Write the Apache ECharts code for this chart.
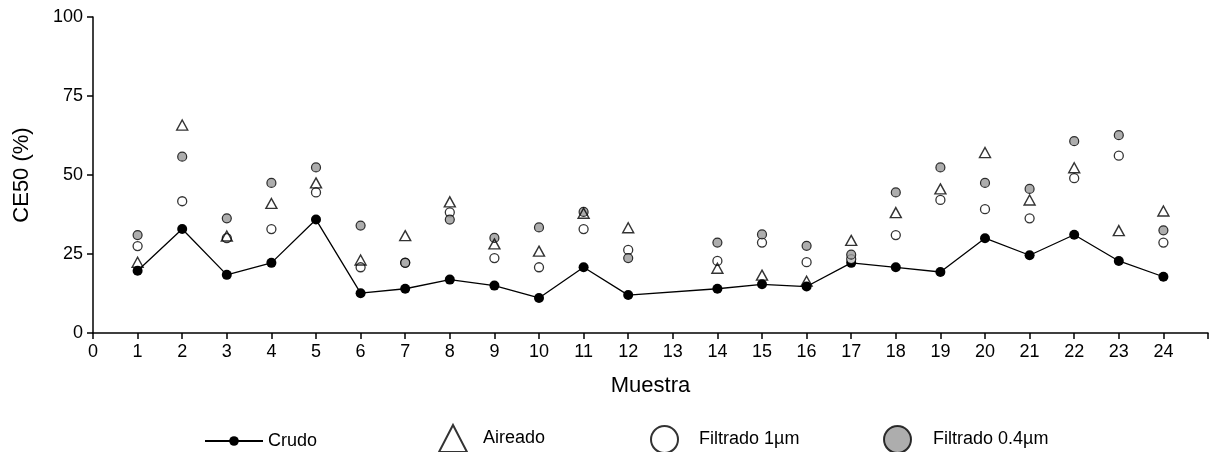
<!DOCTYPE html>
<html>
<head>
<meta charset="utf-8">
<script src="https://cdn.jsdelivr.net/npm/echarts@6/dist/echarts.min.js"></script>
<style>
  html, body { margin: 0; padding: 0; background: #fff; }
  #chart { width: 1215px; height: 452px; }
</style>
</head>
<body>
<div id="chart"></div>
<script>
// Sample numbers (sample 13 has no measurements)
const muestras = [1, 2, 3, 4, 5, 6, 7, 8, 9, 10, 11, 12, 14, 15, 16, 17, 18, 19, 20, 21, 22, 23, 24];

// CE50 (%) per treatment
const crudo = [19.7, 32.9, 18.4, 22.2, 35.9, 12.6, 14.0, 16.9, 15.0, 11.1, 20.8, 12.0, 14.0, 15.4, 14.7, 22.2, 20.8, 19.3, 30.0, 24.6, 31.1, 22.8, 17.8];
const aireado = [22.4, 65.8, 30.7, 41.0, 47.5, 23.1, 30.8, 41.5, 28.2, 25.9, 37.9, 33.3, 20.5, 18.3, 16.4, 29.3, 38.1, 45.6, 57.1, 42.1, 52.3, 32.4, 38.6];
const filtrado1 = [27.5, 41.7, 30.0, 32.9, 44.5, 20.8, 22.3, 38.2, 23.7, 20.8, 32.9, 26.3, 22.8, 28.6, 22.4, 23.4, 31.0, 42.1, 39.2, 36.3, 49.0, 56.1, 28.6];
const filtrado04 = [31.0, 55.8, 36.3, 47.5, 52.4, 34.0, 22.2, 35.9, 30.1, 33.4, 38.3, 23.7, 28.6, 31.2, 27.6, 24.8, 44.5, 52.4, 47.5, 45.6, 60.7, 62.6, 32.5];

// Axis ticks
const xTicks = [0, 1, 2, 3, 4, 5, 6, 7, 8, 9, 10, 11, 12, 13, 14, 15, 16, 17, 18, 19, 20, 21, 22, 23, 24];
const yTicks = [0, 25, 50, 75, 100];

const pairs = vals => muestras.map((m, i) => [m, vals[i]]);

const FONT = 'Liberation Sans, Arial, sans-serif';
const chart = echarts.init(document.getElementById('chart'), null, { renderer: 'canvas' });

const legendText = pad => ({ fontFamily: FONT, fontSize: 18, color: '#000', padding: [0, 0, 0, pad] });

chart.setOption({
  animation: false,
  backgroundColor: '#fff',
  grid: { left: 93, right: 7, top: 17, bottom: 119, containLabel: false },
  xAxis: {
    type: 'value',
    min: 0,
    max: 25,
    interval: 1,
    name: 'Muestra',
    nameLocation: 'middle',
    nameGap: 42,
    nameTextStyle: { fontFamily: FONT, fontSize: 22, color: '#000' },
    axisLine: { lineStyle: { color: '#000', width: 1.5 } },
    axisTick: { length: 6, lineStyle: { color: '#000', width: 1.5 } },
    axisLabel: {
      fontFamily: FONT, fontSize: 18, color: '#000', margin: 10,
      formatter: v => (xTicks.indexOf(v) >= 0 ? String(v) : '')
    },
    splitLine: { show: false }
  },
  yAxis: {
    type: 'value',
    min: yTicks[0],
    max: yTicks[yTicks.length - 1],
    interval: 25,
    name: 'CE50 (%)',
    nameLocation: 'middle',
    nameGap: 60,
    nameTextStyle: { fontFamily: FONT, fontSize: 22, color: '#000' },
    axisLine: { show: true, lineStyle: { color: '#000', width: 1.5 } },
    axisTick: { show: true, length: 6, lineStyle: { color: '#000', width: 1.5 } },
    axisLabel: { fontFamily: FONT, fontSize: 18, color: '#000', margin: 10 },
    splitLine: { show: false }
  },
  legend: [
    {
      left: 204, top: 432, padding: 0, itemWidth: 58, itemHeight: 12,
      textStyle: legendText(0),
      data: ['Crudo']
    },
    {
      left: 438, top: 424, padding: 0, itemWidth: 28, itemHeight: 27,
      textStyle: legendText(11),
      data: [{ name: 'Aireado', icon: 'triangle' }]
    },
    {
      left: 650, top: 425, padding: 0, itemWidth: 27, itemHeight: 27,
      textStyle: legendText(16),
      data: [{ name: 'Filtrado 1µm', icon: 'circle' }]
    },
    {
      left: 883, top: 425, padding: 0, itemWidth: 27, itemHeight: 27,
      textStyle: legendText(17),
      data: [{ name: 'Filtrado 0.4µm', icon: 'circle' }]
    }
  ],
  series: [
    {
      name: 'Crudo',
      type: 'line',
      data: pairs(crudo),
      symbol: 'circle',
      symbolSize: 10,
      lineStyle: { color: '#000', width: 1.3 },
      itemStyle: { color: '#000', borderColor: '#000', borderWidth: 0 },
      z: 3
    },
    {
      name: 'Aireado',
      type: 'scatter',
      data: pairs(aireado),
      symbol: 'triangle',
      symbolSize: [11, 10],
      itemStyle: { color: 'rgba(255,255,255,0)', borderColor: '#000', borderWidth: 1.4 },
      z: 5
    },
    {
      name: 'Filtrado 1µm',
      type: 'scatter',
      data: pairs(filtrado1),
      symbol: 'circle',
      symbolSize: 9,
      itemStyle: { color: '#fff', borderColor: '#000', borderWidth: 1.3 },
      z: 3
    },
    {
      name: 'Filtrado 0.4µm',
      type: 'scatter',
      data: pairs(filtrado04),
      symbol: 'circle',
      symbolSize: 9,
      itemStyle: { color: '#999999', borderColor: '#000', borderWidth: 1.2 },
      z: 4
    }
  ]
});
</script>
</body>
</html>
